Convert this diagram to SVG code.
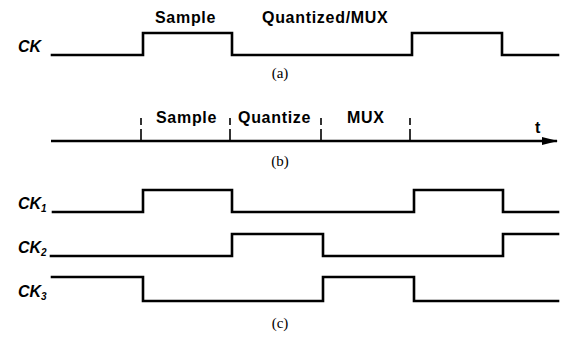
<svg xmlns="http://www.w3.org/2000/svg" width="561" height="337" viewBox="0 0 561 337">
<style>
.w{fill:none;stroke:#000;stroke-width:2.6;stroke-linejoin:miter;stroke-linecap:square}
.lb{font-family:"Liberation Sans",Arial,sans-serif;font-weight:bold;font-size:16px;letter-spacing:0.7px;fill:#000}
.ck{font-family:"Liberation Sans",Arial,sans-serif;font-weight:bold;font-style:italic;font-size:16px;fill:#000}
.sub{font-size:10px}
.cap{font-family:"Liberation Serif","Times New Roman",serif;font-size:15px;fill:#000;text-anchor:middle}
.tk{stroke:#000;stroke-width:1.6;fill:none}
</style>
<defs>
<marker id="arr" markerWidth="16" markerHeight="10" refX="15" refY="5" orient="auto" markerUnits="userSpaceOnUse">
<path d="M0,1 L16,5 L0,9 Z" fill="#000"/>
</marker>
</defs>
<g id="panel-a">
<text class="lb" x="155" y="23">Sample</text>
<text class="lb" x="262" y="23">Quantized/MUX</text>
<text class="ck" x="18" y="52">CK</text>
<path class="w" d="M52,55 H143 V33 H232 V55 H412 V33 H502 V55 H558"/>
<text class="cap" x="280" y="78">(a)</text>
</g>
<g id="panel-b">
<line x1="51" y1="141" x2="557" y2="141" stroke="#000" stroke-width="2.6" marker-end="url(#arr)"/>
<g class="tk">
<path d="M141,118 V125 M141,129 V141"/>
<path d="M230,118 V125 M230,129 V141"/>
<path d="M321,118 V125 M321,129 V141"/>
<path d="M410,118 V125 M410,129 V141"/>
</g>
<text class="lb" x="156" y="123">Sample</text>
<text class="lb" x="238" y="123">Quantize</text>
<text class="lb" x="347" y="123">MUX</text>
<text class="lb" x="535" y="133">t</text>
<text class="cap" x="280" y="166">(b)</text>
</g>
<g id="panel-c">
<text class="ck" x="18" y="209">CK<tspan class="sub" dy="3">1</tspan></text>
<path class="w" d="M53,212 H143 V190 H232 V212 H414 V190 H503 V212 H558"/>
<text class="ck" x="18" y="253">CK<tspan class="sub" dy="3">2</tspan></text>
<path class="w" d="M51,256 H232 V234 H323 V256 H503 V234 H558"/>
<text class="ck" x="18" y="297">CK<tspan class="sub" dy="3">3</tspan></text>
<path class="w" d="M52,277 H143 V301 H323 V277 H414 V301 H558"/>
<text class="cap" x="280" y="328">(c)</text>
</g>
</svg>
